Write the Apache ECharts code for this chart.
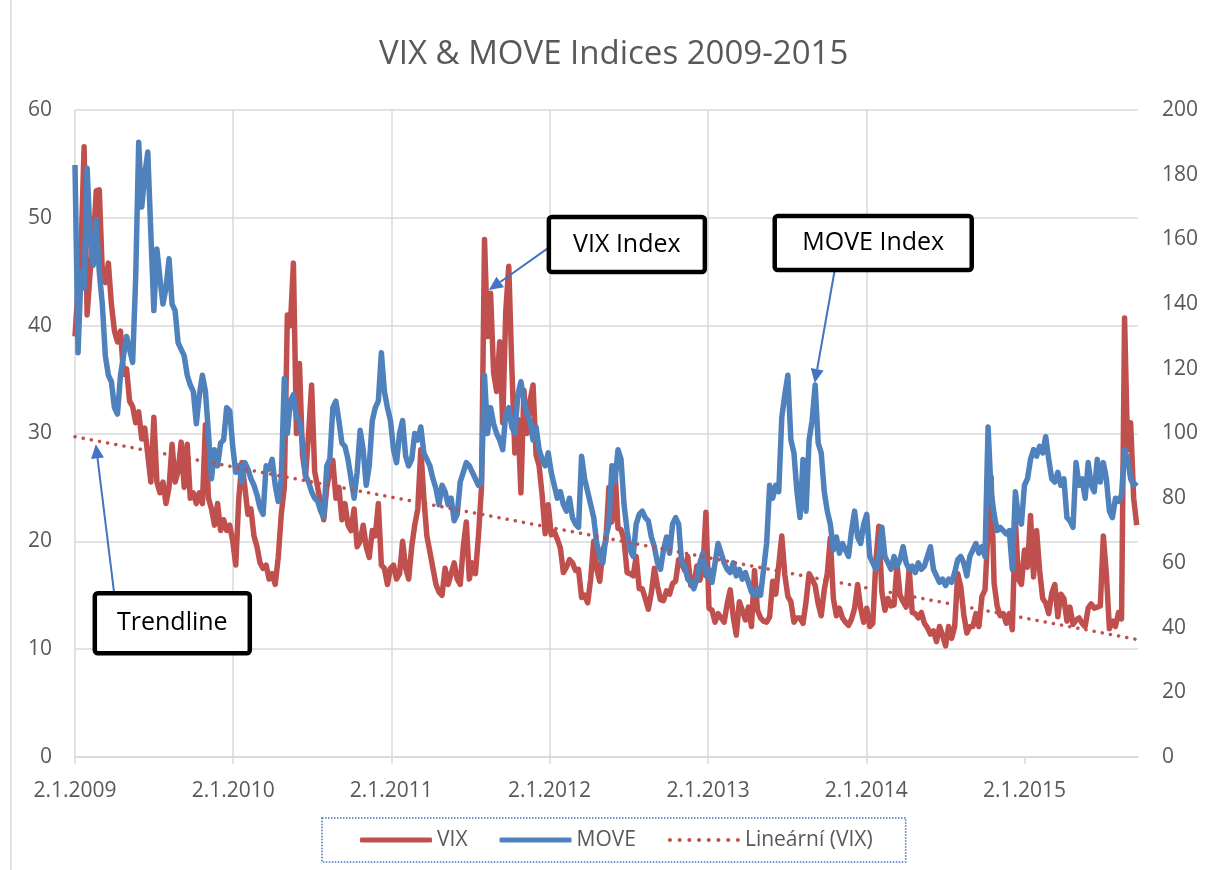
<!DOCTYPE html>
<html><head><meta charset="utf-8">
<script src="https://cdn.jsdelivr.net/npm/echarts@6/dist/echarts.min.js"></script>
<style>html,body{margin:0;padding:0;background:#fff}#c{width:1209px;height:870px}</style>
</head><body><div id="c"></div>
<script>
// ---- data (weekly readings, first week = 2.1.2009) ----
const startDate = '2009-01-02';
const stepDays = 7;
const axisEndDay = 2453;
const tickDays = [0, 365, 730, 1095, 1461, 1826, 2191];
const tickLabels = ['2.1.2009', '2.1.2010', '2.1.2011', '2.1.2012', '2.1.2013', '2.1.2014', '2.1.2015'];
const vix = [
  39, 43.5, 47, 56.6, 41, 45, 47.5, 52.5, 52.6, 45,
  44, 45.8, 42, 39.5, 38.5, 39.5, 35.5, 36, 33, 32.5,
  31, 32, 29.5, 30.5, 28, 25.5, 31.5, 25.5, 24.5, 25.5,
  23.5, 25, 29, 25.5, 26.5, 29.2, 25, 29, 24, 24.5,
  23.5, 24.5, 23.5, 30.8, 24, 23, 21.5, 23.5, 21, 22,
  21, 21.5, 20, 17.8, 24, 27.3, 25, 22.5, 23, 20.5,
  19.5, 18, 17.5, 17.8, 16.5, 17, 16, 18.5, 22.5, 25,
  41, 40, 45.8, 30, 36.5, 28, 26, 30, 34.5, 26.5,
  25, 23.5, 22, 25, 26.5, 27.5, 24, 25, 22, 23.5,
  21.5, 21, 23, 19.5, 20, 21.5, 19.5, 18.5, 21, 20.5,
  23.5, 17.8, 17.5, 16, 17.5, 17.8, 16.5, 17, 20, 17.5,
  16.5, 19.5, 21.5, 23, 28.5, 24, 20.5, 19, 17.5, 16,
  15.3, 15, 17.5, 16, 17, 18, 16.5, 16, 19.5, 21.8,
  16.5, 18, 17, 20.5, 25, 48, 39, 43, 35.6, 33.9,
  38.5, 31, 41.3, 45.5, 36.2, 28.2, 31.3, 24.5, 34, 30,
  33, 34.5, 28, 27, 24.3, 20.7, 23.4, 20.6, 20.9, 20.2,
  19.4, 17.1, 17.6, 18.3, 18, 17.3, 17.4, 14.8, 15, 14.3,
  16.5, 20, 17.4, 16.3, 19.2, 20, 25, 21.8, 26.7, 21.2,
  21.1, 20.1, 17.1, 17, 16.8, 18.6, 15.6, 15.6, 14.7, 13.7,
  15.2, 17.5, 15.9, 14.6, 14.5, 15.4, 15.1, 16.1, 16.3, 18.3,
  18, 17.3, 18.6, 15.9, 15.9, 17.7, 16.4, 17.5, 22.7, 13.8,
  13.6, 12.5, 13.3, 12.9, 12.5, 14.2, 15.5, 13, 11.3, 14.4,
  13.6, 12.7, 13.9, 12.1, 17.3, 13.6, 12.9, 12.6, 12.5, 13,
  16.3, 15.1, 17.8, 20.5, 16.9, 14.9, 14.4, 12.5, 12.9, 12.9,
  12.4, 14.4, 17, 16.5, 15.9, 14.2, 13.1, 15.5, 17, 20.3,
  14.7, 13.1, 13.8, 12.9, 12.5, 12.2, 12.8, 13.8, 16, 13.8,
  12.5, 13.8, 12.1, 12.4, 18.1, 21.4, 15.3, 13.6, 14.7, 14,
  14.1, 17.8, 15, 14.4, 13.9, 17.5, 13.4, 13.3, 12.9, 13.4,
  12.4, 12, 11.4, 11.7, 10.7, 12.1, 11.3, 10.3, 12.1, 11,
  12.1, 17, 15.8, 13.2, 11.5, 12.1, 12.1, 13.3, 12.1, 14.9,
  15.5, 21.2, 26, 16.1, 14, 13.1, 13.3, 12.4, 13.3, 11.8,
  22, 16.5, 16, 19.2, 17.6, 22.4, 16.7, 21, 17.3, 14.7,
  14.3, 13.3, 15.2, 16, 13, 15.1, 14.7, 12.6, 13.9, 12.3,
  12.7, 12.9, 12.4, 12.1, 13.8, 14.2, 13.8, 13.9, 14, 20.5,
  17, 11.9, 12.6, 12.1, 13.4, 12.8, 40.7, 28.5, 31, 24,
  21.5
];
const move = [
  183, 125, 150, 145, 182, 160, 152, 166, 150, 140,
  124, 118, 116, 108, 106, 118, 124, 130, 126, 122,
  148, 190, 170, 180, 187, 162, 138, 157, 148, 140,
  145, 154, 140, 138, 128, 126, 124, 118, 115, 113,
  103, 112, 118, 113, 100, 86, 95, 90, 97, 98,
  108, 107, 96, 88, 90, 85, 91, 89, 86, 84,
  81, 77, 75, 90, 89, 92, 84, 79, 86, 117,
  100, 110, 112, 105, 104, 97, 87, 85, 82, 80,
  79, 76, 74, 90, 92, 108, 110, 104, 97, 96,
  92, 86, 80, 88, 101, 95, 84, 90, 104, 108,
  110, 125, 113, 108, 104, 95, 91, 100, 104, 93,
  90, 92, 100, 98, 102, 94, 92, 90, 86, 83,
  78, 84, 82, 78, 80, 73, 75, 85, 88, 91,
  90, 88, 86, 84, 85, 118, 100, 108, 103, 100,
  98, 95, 106, 108, 102, 100, 112, 116, 110, 106,
  104, 98, 102, 95, 92, 90, 94, 88, 84, 80,
  82, 78, 76, 80, 74, 72, 71, 93, 86, 82,
  78, 74, 66, 62, 60, 68, 72, 90, 85, 95,
  92, 78, 70, 64, 62, 72, 75, 76, 74, 73,
  68, 65, 60, 58, 64, 68, 63, 72, 74, 72,
  60, 59, 55, 54, 52, 55, 60, 63, 56, 58,
  54, 60, 66, 63, 60, 58, 57, 60, 56, 58,
  55, 57, 54, 51, 50, 52, 50, 58, 66, 84,
  80, 84, 82, 105, 112, 118, 98, 94, 82, 74,
  92, 76, 98, 104, 115, 97, 94, 82, 76, 72,
  64, 68, 63, 66, 64, 62, 70, 76, 68, 66,
  72, 75, 62, 60, 58, 62, 71, 62, 60, 58,
  62, 59, 61, 65, 60, 58, 59, 57, 60, 58,
  59, 62, 65, 58, 56, 54, 55, 53, 55, 54,
  57, 61, 62, 60, 56, 62, 64, 66, 63, 65,
  62, 102, 82, 75, 70, 71, 70, 69, 70, 58,
  82, 74, 72, 84, 86, 92, 95, 93, 96, 94,
  99, 92, 86, 85, 88, 84, 86, 74, 73, 71,
  91, 84, 86, 80, 91, 84, 82, 92, 85, 91,
  86, 76, 74, 80, 79, 81, 95, 92, 86, 84,
  85
];
const trendVix = [29.7, 10.9]; // linear trendline of VIX at first / last week

// ---- build ----
const FONT = 'Open Sans';
const GREY = '#595959';
const GRID = '#d9d9d9';
const RED = '#C0504D';
const BLUE = '#4F81BD';
const vixData = vix.map((v, i) => [i * stepDays, v]);
const moveData = move.map((v, i) => [i * stepDays, v]);
const lastDay = (vix.length - 1) * stepDays;
const trendData = [[0, trendVix[0]], [lastDay, trendVix[1]]];

// dotted legend icon: a row of small circles
let dots = '';
for (let k = 0; k < 8; k++) { const cx = k * 2.4; dots += 'M' + cx + ',0.5a0.5,0.5 0 1,0 1,0a0.5,0.5 0 1,0 -1,0z'; }
const dottedIcon = 'path://' + dots;

const chart = echarts.init(document.getElementById('c'), null, {renderer: 'canvas'});
chart.setOption({
  backgroundColor: '#fff',
  animation: false,
  title: {
    text: 'VIX & MOVE Indices 2009-2015',
    left: 374, top: 33,
    textStyle: {color: GREY, fontSize: 33, fontWeight: 'normal', fontFamily: FONT}
  },
  grid: {left: 75, right: 71, top: 110, bottom: 113},
  legend: {
    left: 322, top: 818,
    padding: [10, 33, 10, 38],
    itemWidth: 72, itemHeight: 5, itemGap: 32,
    borderColor: '#4472C4', borderWidth: 1.5, borderType: 'dotted',
    textStyle: {color: GREY, fontSize: 21, fontFamily: FONT, lineHeight: 24},
    data: [
      {name: 'VIX', icon: 'roundRect', itemStyle: {color: RED}},
      {name: 'MOVE', icon: 'roundRect', itemStyle: {color: BLUE}},
      {name: 'Lineární (VIX)', icon: dottedIcon, itemStyle: {color: RED}}
    ]
  },
  xAxis: {
    type: 'value', min: 0, max: axisEndDay,
    axisLine: {show: true, lineStyle: {color: GRID, width: 1.5}},
    axisTick: {show: true, customValues: tickDays, length: 7, lineStyle: {color: GRID, width: 1.5}},
    axisLabel: {
      customValues: tickDays,
      formatter: v => { const k = tickDays.indexOf(v); return k >= 0 ? tickLabels[k] : ''; },
      color: GREY, fontSize: 21, fontFamily: FONT, margin: 24
    },
    splitLine: {show: true, showMaxLine: false, lineStyle: {color: GRID, width: 1.5}}
  },
  yAxis: [
    {
      type: 'value', min: 0, max: 60, interval: 10, position: 'left',
      axisLine: {show: false}, axisTick: {show: false},
      axisLabel: {color: GREY, fontSize: 21, fontFamily: FONT, margin: 23},
      splitLine: {show: true, lineStyle: {color: GRID, width: 1.5}}
    },
    {
      type: 'value', min: 0, max: 200, interval: 20, position: 'right',
      axisLine: {show: false}, axisTick: {show: false},
      axisLabel: {color: GREY, fontSize: 21, fontFamily: FONT, margin: 24},
      splitLine: {show: false}
    }
  ],
  series: [
    {name: 'VIX', type: 'line', yAxisIndex: 0, data: vixData, showSymbol: false, symbol: 'none',
     emphasis: {disabled: true},
     lineStyle: {color: RED, width: 5.5, join: 'round'}, itemStyle: {color: RED}, z: 2},
    {name: 'MOVE', type: 'line', yAxisIndex: 1, data: moveData, showSymbol: false, symbol: 'none',
     emphasis: {disabled: true},
     lineStyle: {color: BLUE, width: 5.5, join: 'round'}, itemStyle: {color: BLUE}, z: 3},
    {name: 'Lineární (VIX)', type: 'line', yAxisIndex: 0, data: trendData, showSymbol: false, symbol: 'none',
     emphasis: {disabled: true},
     lineStyle: {color: RED, width: 3.5, type: [0.1, 8.2], cap: 'round'}, itemStyle: {color: RED}, z: 4}
  ]
});

// ---- callouts anchored in data space ----
const notes = [
  {text: 'VIX Index', anchor: [955, 43.3], yAxisIndex: 0, from: [62, -44], box: [60, -73, 156, 55]},
  {text: 'MOVE Index', anchor: [1707, 115.6], yAxisIndex: 1, from: [20, -113], box: [-40, -167, 197, 54]},
  {text: 'Trendline', anchor: [48, 29.0], yAxisIndex: 0, from: [19, 154], box: [-1, 149, 155, 60]}
];
const els = [{type: 'line', shape: {x1: 11, y1: 0, x2: 11, y2: 870}, style: {stroke: GRID, lineWidth: 1.5}, z: 1}];
notes.forEach(n => {
  const tip = chart.convertToPixel({xAxisIndex: 0, yAxisIndex: n.yAxisIndex}, n.anchor);
  const from = [tip[0] + n.from[0], tip[1] + n.from[1]];
  const dx = tip[0] - from[0], dy = tip[1] - from[1], len = Math.hypot(dx, dy);
  const ux = dx / len, uy = dy / len, L = 14, W = 6.5;
  const bx = tip[0] - ux * L, by = tip[1] - uy * L;
  els.push({type: 'line', shape: {x1: from[0], y1: from[1], x2: bx, y2: by}, style: {stroke: '#4472C4', lineWidth: 2}, z: 20});
  els.push({type: 'polygon', shape: {points: [tip, [bx - uy * W, by + ux * W], [bx + uy * W, by - ux * W]]}, style: {fill: '#4472C4'}, z: 20});
  const bxp = tip[0] + n.box[0], byp = tip[1] + n.box[1];
  els.push({type: 'rect', shape: {x: bxp, y: byp, width: n.box[2], height: n.box[3], r: 3},
            style: {fill: '#fff', stroke: '#000', lineWidth: 4.5}, z: 21});
  els.push({type: 'text', style: {text: n.text, x: bxp + n.box[2] / 2, y: byp + n.box[3] / 2,
            align: 'center', verticalAlign: 'middle', fontSize: 25, fontFamily: FONT, fill: '#000'}, z: 22});
});
chart.setOption({graphic: els});
</script>
</body></html>
